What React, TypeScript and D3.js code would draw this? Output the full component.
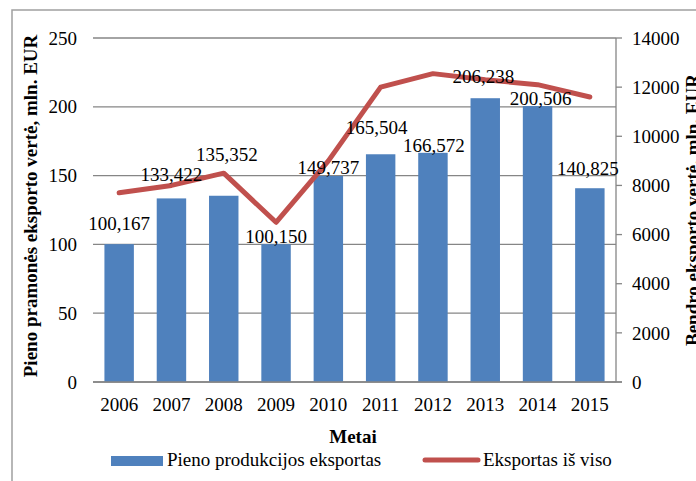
import React from "react";
import * as d3 from "d3";

const years = ["2006", "2007", "2008", "2009", "2010", "2011", "2012", "2013", "2014", "2015"];
const dairyExport = [100.167, 133.422, 135.352, 100.15, 149.737, 165.504, 166.572, 206.238, 200.506, 140.825];
const dairyLabels = ["100,167", "133,422", "135,352", "100,150", "149,737", "165,504", "166,572", "206,238", "200,506", "140,825"];
const totalExport = [7700, 8000, 8500, 6500, 9000, 12000, 12550, 12300, 12100, 11600];
const leftTicks = [0, 50, 100, 150, 200, 250];
const rightTicks = [0, 2000, 4000, 6000, 8000, 10000, 12000, 14000];

// label placement (manual in original chart): [dx, lift above bar top]
const labelShift: [number, number][] = [
  [0, 14], [0, 17], [3, 35], [0, 1], [0, 2], [-4, 20], [1, 1], [-2, 15], [3, 1], [-2, 13],
];

const W = 696, H = 481;
const L = 93, R = 616, T = 38, B = 382;
const FONT = "'Liberation Serif', 'Times New Roman', serif";
const BLUE = "#4F81BD";
const RED = "#C0504D";
const GRID = "#868686";

export default function App() {
  const x = d3.scaleBand<string>().domain(years).range([L, R]).paddingInner(0.437).paddingOuter(0.2185);
  const yL = d3.scaleLinear().domain([0, 250]).range([B, T]);
  const yR = d3.scaleLinear().domain([0, 14000]).range([B, T]);
  const cx = (i: number) => (x(years[i]) as number) + x.bandwidth() / 2;
  const line = d3.line<number>().x((_, i) => cx(i)).y((d) => yR(d));

  return (
    <svg width={W} height={H} style={{ position: "absolute", left: 0, top: 0, background: "#fff" }} fontFamily={FONT}>
      <rect x={12} y={10} width={W + 20} height={H + 20} fill="#fff" stroke="#a0a0a0" strokeWidth={1.5} />
      {leftTicks.map((t) => (
        <g key={t}>
          <line x1={L} x2={R} y1={yL(t)} y2={yL(t)} stroke={GRID} strokeWidth={1.3} />
          <text x={77} y={yL(t)} dy="0.35em" textAnchor="end" fontSize={19} fill="#000">{t}</text>
        </g>
      ))}
      <line x1={R} x2={R} y1={T} y2={B} stroke={GRID} strokeWidth={1.3} />
      {rightTicks.map((t) => (
        <g key={t}>
          <line x1={R} x2={R + 6} y1={yR(t)} y2={yR(t)} stroke={GRID} strokeWidth={1.3} />
          <text x={632} y={yR(t)} dy="0.35em" textAnchor="start" fontSize={19} fill="#000">{t}</text>
        </g>
      ))}
      {dairyExport.map((v, i) => (
        <rect key={years[i]} x={x(years[i])} y={yL(v)} width={x.bandwidth()} height={B - yL(v)} fill={BLUE} />
      ))}
      <line x1={L} x2={R + 6} y1={B} y2={B} stroke={GRID} strokeWidth={1.5} />
      <path d={line(totalExport) || ""} fill="none" stroke={RED} strokeWidth={5} strokeLinejoin="round" strokeLinecap="round" />
      {dairyExport.map((v, i) => (
        <text key={"l" + i} x={cx(i) + labelShift[i][0]} y={yL(v) - labelShift[i][1]} textAnchor="middle" fontSize={19} fill="#000">
          {dairyLabels[i]}
        </text>
      ))}
      {years.map((yr, i) => (
        <text key={"x" + yr} x={cx(i)} y={411} textAnchor="middle" fontSize={19} fill="#000">{yr}</text>
      ))}
      <text x={353} y={443} textAnchor="middle" fontSize={19} fontWeight="bold" fill="#000">Metai</text>
      <text transform={`translate(37,${(T + B) / 2 - 4}) rotate(-90)`} textAnchor="middle" fontSize={19} fontWeight="bold" fill="#000">
        Pieno pramonės eksporto vertė, mln. EUR
      </text>
      <text transform={`translate(699,${(T + B) / 2}) rotate(-90)`} textAnchor="middle" fontSize={19} fontWeight="bold" fill="#000">
        Bendro eksporto vertė, mln. EUR
      </text>
      <rect x={111} y={456} width={52} height={10} fill={BLUE} />
      <text x={167} y={466} fontSize={19} fill="#000">Pieno produkcijos eksportas</text>
      <line x1={425} x2={478} y1={460} y2={460} stroke={RED} strokeWidth={5} strokeLinecap="round" />
      <text x={483} y={466} fontSize={19} fill="#000">Eksportas iš viso</text>
    </svg>
  );
}
